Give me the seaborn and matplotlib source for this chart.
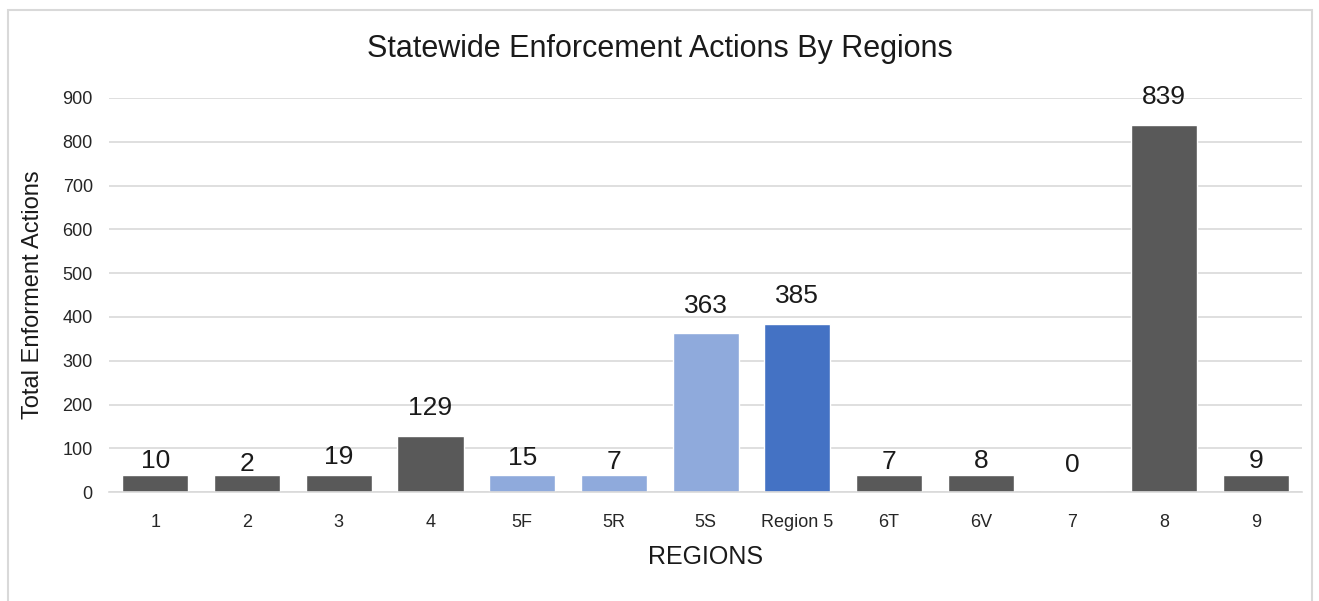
import matplotlib
matplotlib.use("Agg")
import matplotlib.pyplot as plt
import seaborn as sns
import pandas as pd
from matplotlib.patches import Rectangle

# ---- data ----
regions = ["1", "2", "3", "4", "5F", "5R", "5S", "Region 5", "6T", "6V", "7", "8", "9"]
label_values = [10, 2, 19, 129, 15, 7, 363, 385, 7, 8, 0, 839, 9]
bar_heights = [40, 40, 40, 129, 40, 40, 363, 385, 40, 40, 0, 839, 40]
bar_colors = ["#595959", "#595959", "#595959", "#595959", "#8FAADC", "#8FAADC",
              "#8FAADC", "#4472C4", "#595959", "#595959", "#595959", "#595959", "#595959"]
y_ticks = [0, 100, 200, 300, 400, 500, 600, 700, 800, 900]

title = "Statewide Enforcement Actions By Regions"
x_label = "REGIONS"
y_label = "Total Enforment Actions"

sns.set_theme(style="white")
plt.rcParams["font.family"] = ["Liberation Sans", "DejaVu Sans"]

df = pd.DataFrame({"region": regions, "height": bar_heights})

fig = plt.figure(figsize=(13.19, 6.01), dpi=100)
ax = fig.add_axes([0.083, 0.181, 0.904, 0.656])

sns.barplot(data=df, x="region", y="height", hue="region",
            palette=dict(zip(regions, bar_colors)), order=regions,
            width=0.72, legend=False, ax=ax, saturation=1)

for i, v in enumerate(label_values):
    ax.annotate(str(v), xy=(i, v), xytext=(0, 11), textcoords="offset points",
                ha="center", va="bottom", fontsize=19, color="#1a1a1a",
                annotation_clip=False)

ax.set_ylim(0, 900)
ax.set_xlim(-0.5, len(regions) - 0.5)
ax.set_yticks(y_ticks)
ax.set_yticklabels([str(t) for t in y_ticks], fontsize=13, color="#262626")
ax.tick_params(axis="x", labelsize=13, labelcolor="#262626", pad=16, length=0)
ax.tick_params(axis="y", pad=12, length=0)
ax.yaxis.grid(True, color="#D9D9D9", linewidth=1.2)
ax.set_axisbelow(True)
for s in ["top", "right", "left"]:
    ax.spines[s].set_visible(False)
ax.spines["bottom"].set_color("#D9D9D9")
ax.spines["bottom"].set_linewidth(1.2)

ax.set_xlabel(x_label, fontsize=18, color="#1a1a1a", labelpad=10)
ax.set_ylabel(y_label, fontsize=17, color="#1a1a1a")
ax.yaxis.set_label_coords(-0.055, 0.5)

fig.text(0.500, 0.918, title, ha="center", va="center", fontsize=22, color="#1a1a1a")

fig.patches.append(Rectangle((0.006, -0.05), 0.989, 1.033, transform=fig.transFigure,
                             fill=False, edgecolor="#D9D9D9", linewidth=1.5))

fig.savefig("out.png", dpi=100)
